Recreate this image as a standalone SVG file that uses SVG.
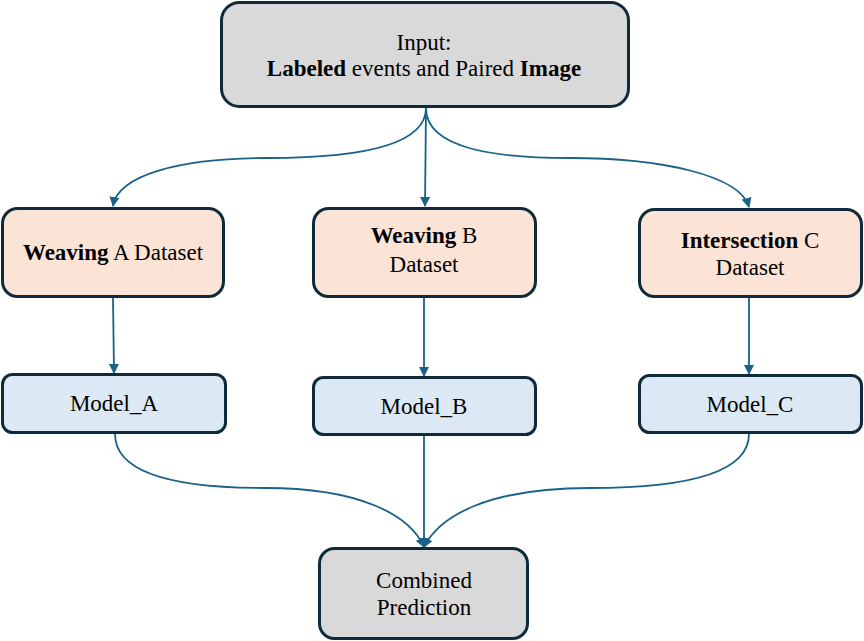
<svg xmlns="http://www.w3.org/2000/svg" width="864" height="641" viewBox="0 0 864 641">
<defs>
<marker id="ah" markerWidth="10" markerHeight="10" refX="9" refY="5" orient="auto" markerUnits="userSpaceOnUse">
<path d="M0,0 L10,5 L0,10 Z" fill="#1a6287"/>
</marker>
</defs>
<g id="connectors" fill="none" stroke="#1a6287" stroke-width="1.8">
<path d="M426,108 C426,150 340,158 268,158 C180,158 118,175 113,206" marker-end="url(#ah)"/>
<path d="M426,108 L425,206" marker-end="url(#ah)"/>
<path d="M426,108 C426,150 500,158 570,158 C660,158 740,175 749,207" marker-end="url(#ah)"/>
<path d="M113,298 L114,373" marker-end="url(#ah)"/>
<path d="M424,298 L424,376" marker-end="url(#ah)"/>
<path d="M749,298 L749,374" marker-end="url(#ah)"/>
<path d="M115,434 C115,475 180,488 265,488 C360,488 410,515 424,547" marker-end="url(#ah)"/>
<path d="M424,436 L424,547" marker-end="url(#ah)"/>
<path d="M749,434 C749,475 680,488 590,488 C490,488 440,515 424,547" marker-end="url(#ah)"/>
</g>
<g id="input">
<rect x="221.5" y="2.5" width="407" height="104" rx="18" fill="#d9d9d9" stroke="#0f2a3b" stroke-width="3"/>
<text x="424" y="50" font-family="Liberation Serif" font-size="23" text-anchor="middle">Input:</text>
<text x="424" y="76" font-family="Liberation Serif" font-size="23" text-anchor="middle"><tspan font-weight="bold">Labeled</tspan> events and Paired <tspan font-weight="bold">Image</tspan></text>
</g>
<g id="weavingA">
<rect x="2.5" y="208.5" width="221" height="88" rx="15" fill="#fbe3d6" stroke="#0f2a3b" stroke-width="3"/>
<text x="113" y="260" font-family="Liberation Serif" font-size="23" text-anchor="middle"><tspan font-weight="bold">Weaving</tspan> A Dataset</text>
</g>
<g id="weavingB">
<rect x="313.5" y="208.5" width="222" height="88" rx="15" fill="#fbe3d6" stroke="#0f2a3b" stroke-width="3"/>
<text x="424" y="243" font-family="Liberation Serif" font-size="23" text-anchor="middle"><tspan font-weight="bold">Weaving</tspan> B</text>
<text x="424" y="272" font-family="Liberation Serif" font-size="23" text-anchor="middle">Dataset</text>
</g>
<g id="intersectionC">
<rect x="639.5" y="209.5" width="222" height="87" rx="15" fill="#fbe3d6" stroke="#0f2a3b" stroke-width="3"/>
<text x="750" y="247.5" font-family="Liberation Serif" font-size="23" text-anchor="middle"><tspan font-weight="bold">Intersection</tspan> C</text>
<text x="750" y="275" font-family="Liberation Serif" font-size="23" text-anchor="middle">Dataset</text>
</g>
<g id="modelA">
<rect x="2.5" y="374.5" width="223" height="58" rx="10" fill="#dce9f5" stroke="#0f2a3b" stroke-width="3"/>
<text x="114" y="411" font-family="Liberation Serif" font-size="23" text-anchor="middle">Model_A</text>
</g>
<g id="modelB">
<rect x="313.5" y="377.5" width="222" height="57" rx="10" fill="#dce9f5" stroke="#0f2a3b" stroke-width="3"/>
<text x="424" y="414" font-family="Liberation Serif" font-size="23" text-anchor="middle">Model_B</text>
</g>
<g id="modelC">
<rect x="639.5" y="375.5" width="222" height="57" rx="10" fill="#dce9f5" stroke="#0f2a3b" stroke-width="3"/>
<text x="750" y="412" font-family="Liberation Serif" font-size="23" text-anchor="middle">Model_C</text>
</g>
<g id="combined">
<rect x="319.5" y="548.5" width="208" height="90" rx="15" fill="#d9d9d9" stroke="#0f2a3b" stroke-width="3"/>
<text x="424" y="588" font-family="Liberation Serif" font-size="23" text-anchor="middle">Combined</text>
<text x="424" y="615" font-family="Liberation Serif" font-size="23" text-anchor="middle">Prediction</text>
</g>
</svg>
